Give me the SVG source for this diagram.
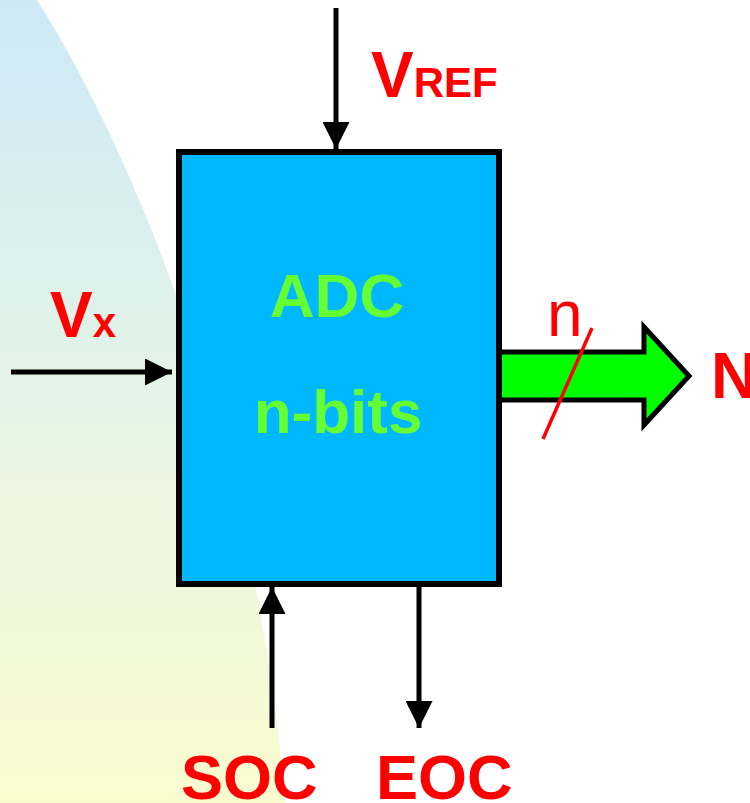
<svg xmlns="http://www.w3.org/2000/svg" width="750" height="803" viewBox="0 0 750 803">
<defs>
<linearGradient id="bg" x1="0" y1="0" x2="0" y2="1">
<stop offset="0" stop-color="#CDE9F8"/>
<stop offset="0.5" stop-color="#E5F4E6"/>
<stop offset="1" stop-color="#FAFCCF"/>
</linearGradient>
<marker id="ah" viewBox="0 0 10 10" refX="10" refY="5" markerWidth="5.4" markerHeight="5.4" orient="auto" markerUnits="strokeWidth">
<path d="M0,0 L10,5 L0,10 Z" fill="#000"/>
</marker>
<style>
.lbl{font-family:"Liberation Sans",Arial,sans-serif;font-weight:bold;fill:#FF0000}
.big{font-size:64px}
.sub{font-size:42px}
.in{font-family:"Liberation Sans",Arial,sans-serif;font-weight:bold;fill:#66FF33;font-size:62px}
.wire{stroke:#000;stroke-width:5;fill:none}
</style>
</defs>
<rect width="750" height="803" fill="#FFFFFF"/>
<path d="M37,0 C150,180 260,480 285,803 L0,803 L0,0 Z" fill="url(#bg)"/>
<g id="connectors">
<line class="wire" x1="336" y1="8" x2="336" y2="149" marker-end="url(#ah)"/>
<line class="wire" x1="11" y1="372" x2="172" y2="372" marker-end="url(#ah)"/>
<line class="wire" x1="272" y1="728" x2="272" y2="587" marker-end="url(#ah)"/>
<line class="wire" x1="419" y1="587" x2="419" y2="728" marker-end="url(#ah)"/>
<polygon id="bus" points="499,352 644,352 644,327 689,376 644,425 644,400 499,400" fill="#00FF00" stroke="#000" stroke-width="5" stroke-linejoin="miter"/>
<line x1="592" y1="328" x2="543" y2="439" stroke="#FF0000" stroke-width="3.5"/>
<text x="547" y="336" font-family="'Liberation Sans',Arial,sans-serif" font-size="64" fill="#FF0000">n</text>
</g>
<g id="adc">
<rect x="179" y="152" width="320" height="432" fill="#00B8FF" stroke="#000" stroke-width="6"/>
<text class="in" x="337" y="317" text-anchor="middle">ADC</text>
<text class="in" x="338" y="433" text-anchor="middle">n-bits</text>
</g>
<g id="vref"><text class="lbl" x="371" y="97"><tspan class="big">V</tspan><tspan class="sub">REF</tspan></text></g>
<g id="vx"><text class="lbl" x="50" y="337"><tspan class="big">V</tspan><tspan class="sub">x</tspan></text></g>
<g id="n-out"><text class="lbl big" x="711" y="398">N</text></g>
<g id="soc"><text class="lbl" x="181" y="799" font-size="63">SOC</text></g>
<g id="eoc"><text class="lbl" x="376" y="799" font-size="63">EOC</text></g>
</svg>
